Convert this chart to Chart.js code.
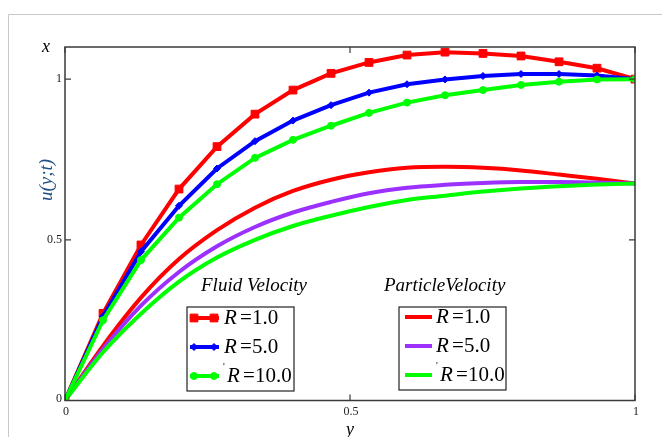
<!DOCTYPE html>
<html>
<head>
<meta charset="utf-8">
<script src="https://cdn.jsdelivr.net/npm/chart.js@4.4.1/dist/chart.umd.min.js"></script>
<style>
  html, body { margin: 0; padding: 0; background: #fff; }
  canvas { display: block; }
</style>
</head>
<body>
<canvas id="chart" width="662" height="437"></canvas>
<script>
// Sample positions along y (horizontal axis)
const yPositions = [0, 0.0667, 0.1333, 0.2, 0.2667, 0.3333, 0.4, 0.4667, 0.5333, 0.6, 0.6667, 0.7333, 0.8, 0.8667, 0.9333, 1];

// Fluid velocity u(y;t)
const fluidR1  = [0, 0.271, 0.484, 0.658, 0.790, 0.891, 0.966, 1.018, 1.052, 1.075, 1.084, 1.080, 1.072, 1.054, 1.034, 1.0];
const fluidR5  = [0, 0.262, 0.463, 0.606, 0.722, 0.807, 0.871, 0.919, 0.958, 0.984, 0.999, 1.010, 1.016, 1.016, 1.011, 1.0];
const fluidR10 = [0, 0.250, 0.437, 0.569, 0.673, 0.755, 0.811, 0.855, 0.895, 0.927, 0.950, 0.966, 0.982, 0.992, 0.999, 1.0];

// Particle velocity
const particleR1  = [0, 0.170, 0.320, 0.440, 0.530, 0.600, 0.652, 0.687, 0.710, 0.724, 0.727, 0.724, 0.716, 0.703, 0.690, 0.675];
const particleR5  = [0, 0.160, 0.295, 0.400, 0.480, 0.540, 0.585, 0.618, 0.645, 0.662, 0.671, 0.677, 0.680, 0.680, 0.678, 0.675];
const particleR10 = [0, 0.150, 0.270, 0.370, 0.445, 0.500, 0.543, 0.575, 0.602, 0.624, 0.637, 0.650, 0.660, 0.667, 0.672, 0.675];

// Axis ticks and labels
const xTicks = [0, 0.5, 1];
const yTicks = [0, 0.5, 1];
const xTickLabels = ['0', '0.5', '1'];
const yTickLabels = ['0', '0.5', '1'];
const legendValues = ['1.0', '5.0', '10.0'];

const RED = '#ff0000', BLUE = '#0000ff', GREEN = '#00ff00', PURPLE = '#9b30ff';
const SERIF = '"Liberation Serif", "DejaVu Serif", serif';

function pts(vals) {
  return vals.map((v, i) => ({ x: yPositions[i], y: v }));
}

const fluidStyle = (color, shape, radius) => ({
  borderColor: color, backgroundColor: color, pointBackgroundColor: color,
  pointBorderColor: color, borderWidth: 4, pointStyle: shape, pointRadius: radius,
  pointBorderWidth: 1, tension: 0, clip: 0
});
const particleStyle = (color) => ({
  borderColor: color, backgroundColor: color, borderWidth: 4,
  pointRadius: 0, cubicInterpolationMode: 'monotone', clip: 0
});

const MARKERS = [['rect', 5.5], ['rectRot', 3.5], ['circle', 3.5]];

const datasets = [
  Object.assign({ label: 'Particle R=1.0',  data: pts(particleR1)  }, particleStyle(RED)),
  Object.assign({ label: 'Particle R=5.0',  data: pts(particleR5)  }, particleStyle(PURPLE)),
  Object.assign({ label: 'Particle R=10.0', data: pts(particleR10) }, particleStyle(GREEN)),
  Object.assign({ label: 'Fluid R=1.0',  data: pts(fluidR1)  }, fluidStyle(RED, MARKERS[0][0], MARKERS[0][1])),
  Object.assign({ label: 'Fluid R=5.0',  data: pts(fluidR5)  }, fluidStyle(BLUE, MARKERS[1][0], MARKERS[1][1])),
  Object.assign({ label: 'Fluid R=10.0', data: pts(fluidR10) }, fluidStyle(GREEN, MARKERS[2][0], MARKERS[2][1]))
];
// later series sit on top
datasets.forEach((d, i) => { d.order = datasets.length - i; });

function drawRLabel(ctx, x, y, value, mark) {
  ctx.fillStyle = '#000';
  ctx.textBaseline = 'middle';
  ctx.textAlign = 'left';
  if (mark) {
    ctx.font = '10px ' + SERIF;
    ctx.fillText("'", x - 4, y - 9);
  }
  ctx.font = 'italic 21px ' + SERIF;
  ctx.fillText('R', x, y);
  ctx.font = '21px ' + SERIF;
  ctx.fillText('=', x + 16, y);
  ctx.fillText(value, x + 28, y);
}

const decorations = {
  id: 'decorations',
  beforeDraw(chart) {
    const ctx = chart.ctx;
    ctx.save();
    ctx.fillStyle = '#fff';
    ctx.fillRect(0, 0, chart.width, chart.height);
    ctx.strokeStyle = '#c8c8c8';
    ctx.lineWidth = 1;
    ctx.beginPath();
    ctx.moveTo(8.5, chart.height);
    ctx.lineTo(8.5, 14.5);
    ctx.lineTo(chart.width, 14.5);
    ctx.stroke();
    ctx.restore();
  },
  afterDatasetsDraw(chart) {
    const ctx = chart.ctx;
    const xs = chart.scales.x, ys = chart.scales.y;
    const a = chart.chartArea;
    ctx.save();

    // plot frame
    ctx.strokeStyle = '#3a3a3a';
    ctx.lineWidth = 1.5;
    ctx.strokeRect(a.left, a.top, a.right - a.left, a.bottom - a.top);

    // inward tick marks on all four sides
    ctx.lineWidth = 1.2;
    ctx.beginPath();
    xTicks.forEach(v => {
      const px = xs.getPixelForValue(v);
      ctx.moveTo(px, a.bottom); ctx.lineTo(px, a.bottom - 6);
      ctx.moveTo(px, a.top); ctx.lineTo(px, a.top + 6);
    });
    yTicks.forEach(v => {
      const py = ys.getPixelForValue(v);
      ctx.moveTo(a.left, py); ctx.lineTo(a.left + 6, py);
      ctx.moveTo(a.right, py); ctx.lineTo(a.right - 6, py);
    });
    ctx.stroke();

    // tick labels
    ctx.fillStyle = '#222';
    ctx.font = '12px ' + SERIF;
    ctx.textAlign = 'right';
    ctx.textBaseline = 'middle';
    yTicks.forEach((v, i) => {
      ctx.fillText(yTickLabels[i], a.left - 3, ys.getPixelForValue(v) - (v === 0 ? 2 : 0));
    });
    ctx.textAlign = 'center';
    ctx.textBaseline = 'top';
    xTicks.forEach((v, i) => {
      ctx.fillText(xTickLabels[i], xs.getPixelForValue(v) + 1, a.bottom + 5);
    });

    // axis titles
    ctx.fillStyle = '#000';
    ctx.font = 'italic 18px ' + SERIF;
    ctx.textAlign = 'center';
    ctx.textBaseline = 'middle';
    ctx.fillText('x', 46, a.top);
    ctx.fillText('y', xs.getPixelForValue(0.5), 430);
    ctx.save();
    ctx.translate(47, 180);
    ctx.rotate(-Math.PI / 2);
    ctx.fillStyle = '#1f4f86';
    ctx.font = 'italic 19px ' + SERIF;
    ctx.fillText('u(y;t)', 0, 0);
    ctx.restore();

    // legend titles
    ctx.fillStyle = '#000';
    ctx.font = 'italic 19px ' + SERIF;
    ctx.textAlign = 'left';
    ctx.fillText('Fluid Velocity', 201, 286);
    ctx.fillText('ParticleVelocity', 384, 286);

    // legend boxes
    ctx.strokeStyle = '#222';
    ctx.lineWidth = 1.2;
    ctx.fillStyle = '#fff';
    ctx.fillRect(187, 307, 107, 84);
    ctx.strokeRect(187, 307, 107, 84);
    ctx.fillRect(399, 307, 107, 83);
    ctx.strokeRect(399, 307, 107, 83);

    const rows = [318, 347, 376];
    const fluidColors = [RED, BLUE, GREEN];
    rows.forEach((ry, i) => {
      ctx.strokeStyle = fluidColors[i];
      ctx.lineWidth = 4;
      ctx.beginPath(); ctx.moveTo(190, ry); ctx.lineTo(219, ry); ctx.stroke();
      ctx.fillStyle = fluidColors[i];
      ctx.strokeStyle = fluidColors[i];
      ctx.lineWidth = 1;
      [194, 214].forEach(mx => {
        Chart.helpers.drawPoint(ctx, { pointStyle: MARKERS[i][0], radius: MARKERS[i][1], borderWidth: 1, rotation: 0 }, mx, ry);
      });
      drawRLabel(ctx, i === 2 ? 227 : 224, ry, legendValues[i], i === 2);
    });

    const particleColors = [RED, PURPLE, GREEN];
    rows.forEach((ry, i) => {
      const y = ry - 1;
      ctx.strokeStyle = particleColors[i];
      ctx.lineWidth = 4;
      ctx.beginPath(); ctx.moveTo(405, y); ctx.lineTo(432, y); ctx.stroke();
      drawRLabel(ctx, i === 2 ? 440 : 436, y, legendValues[i], i === 2);
    });

    ctx.restore();
  }
};

new Chart(document.getElementById('chart'), {
  type: 'line',
  data: { datasets },
  options: {
    responsive: false,
    animation: false,
    devicePixelRatio: 1,
    layout: { padding: { left: 65, right: 27, top: 47, bottom: 36.5 } },
    plugins: { legend: { display: false }, tooltip: { enabled: false } },
    scales: {
      x: { type: 'linear', min: 0, max: 1, display: false },
      y: { type: 'linear', min: 0, max: 1.1, display: false }
    }
  },
  plugins: [decorations]
});
</script>
</body>
</html>
